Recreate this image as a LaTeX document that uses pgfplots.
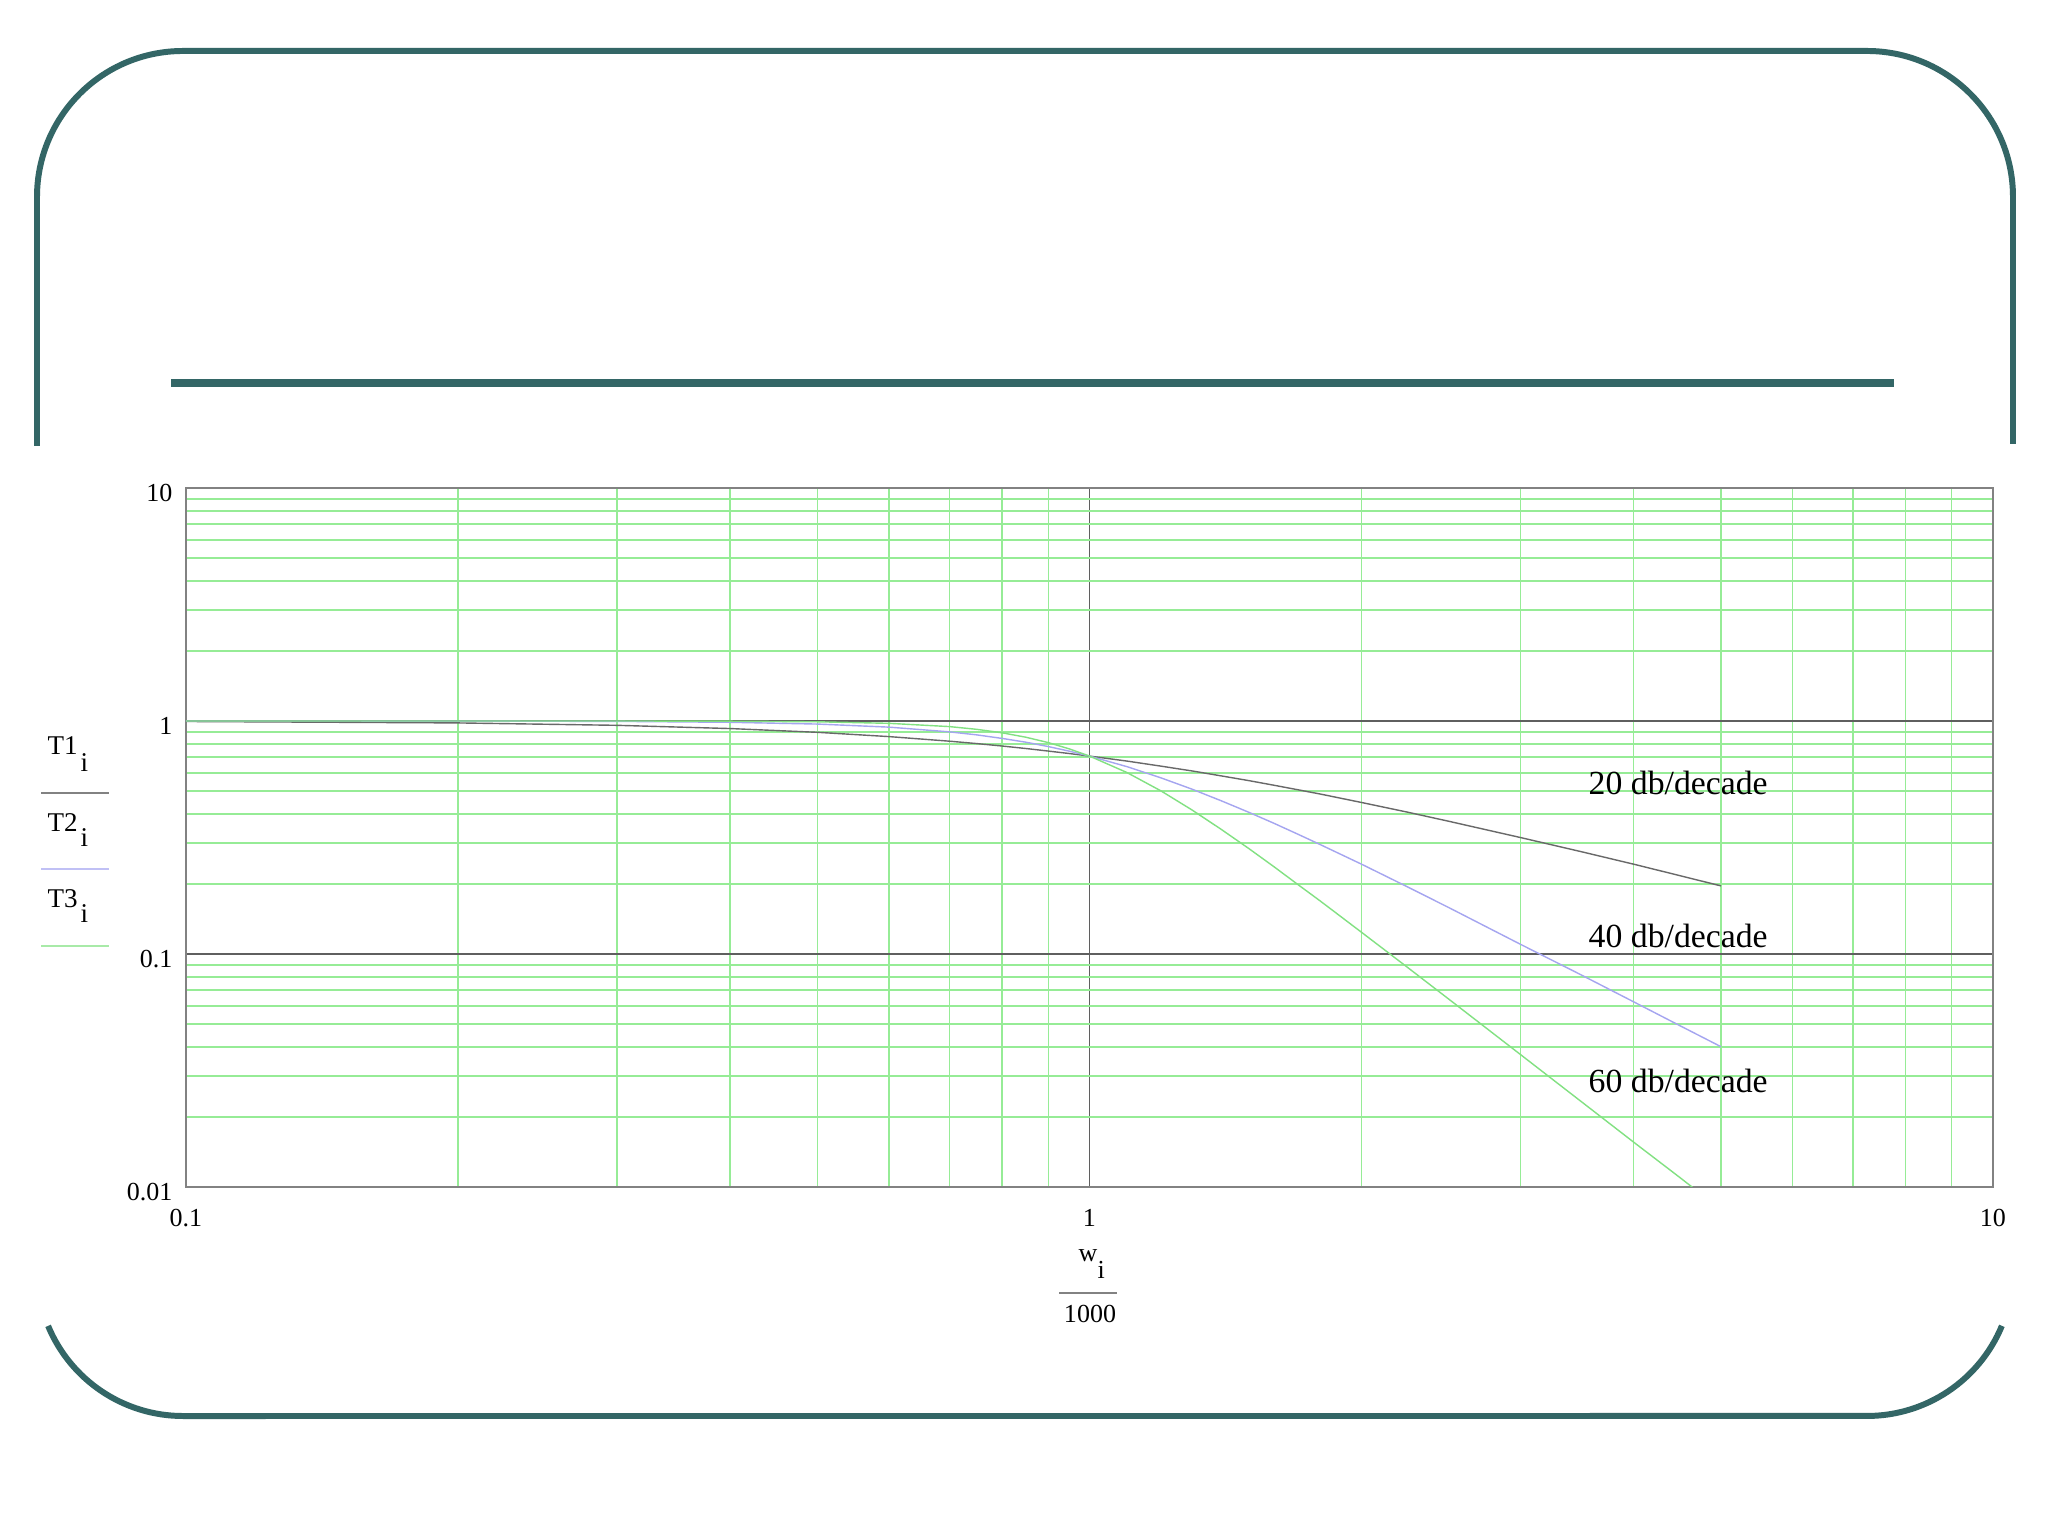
\documentclass[border=0pt]{standalone}
\usepackage{fontspec}
\setmainfont{Liberation Serif}
\usepackage{pgfplots}
\pgfplotsset{compat=1.18}

\definecolor{frame}{RGB}{51,102,102}
\definecolor{gridgreen}{RGB}{150,236,150}
\definecolor{gridgray}{RGB}{95,95,95}
\definecolor{boxgray}{RGB}{130,130,130}
\definecolor{tone}{RGB}{105,105,105}
\definecolor{ttwo}{RGB}{165,165,240}
\definecolor{tthree}{RGB}{130,225,130}

\newcommand{\tickfont}{\fontsize{7.4}{8.5}\selectfont}
\newcommand{\labfont}{\fontsize{7.7}{9}\selectfont}

\begin{document}
\begin{tikzpicture}
\path[use as bounding box, fill=white] (0,0) rectangle (20.48,15.36);

% slide frame, interrupted where the plot sits
\draw[frame, line width=1.7pt]
  (0.37,10.90) -- (0.37,13.39) arc[start angle=180, end angle=90, radius=1.46]
  -- (18.67,14.85) arc[start angle=90, end angle=0, radius=1.46] -- (20.13,10.92);
\draw[frame, line width=1.7pt]
  (0.481,2.101) arc[start angle=202.5, end angle=270, radius=1.46]
  -- (18.67,1.20) arc[start angle=270, end angle=337.5, radius=1.46];
\draw[frame, line width=2.2pt] (1.71,11.53) -- (18.94,11.53);

\begin{axis}[
  at={(1.86cm,3.49cm)}, anchor=south west,
  scale only axis, width=18.07cm, height=6.99cm,
  xmode=log, ymode=log,
  xmin=0.1, xmax=10, ymin=0.01, ymax=10,
  xtick={0.1,1,10}, xticklabels={0.1,1,10},
  ytick={0.01,0.1,1,10}, yticklabels={0.01,0.1,1,10},
  minor xtick={0.2,0.3,0.4,0.5,0.6,0.7,0.8,0.9,2,3,4,5,6,7,8,9},
  minor ytick={0.02,0.03,0.04,0.05,0.06,0.07,0.08,0.09,
               0.2,0.3,0.4,0.5,0.6,0.7,0.8,0.9,2,3,4,5,6,7,8,9},
  major tick length=0pt, minor tick length=0pt,
  xmajorgrids, ymajorgrids, xminorgrids, yminorgrids,
  major grid style={gridgray, line width=0.3pt},
  minor x grid style={gridgreen, line width=0.35pt},
  minor y grid style={gridgreen, line width=0.55pt},
  axis line style={boxgray, line width=0.4pt},
  tick label style={font=\tickfont, inner sep=0pt, text=black},
  xticklabel style={anchor=base, yshift=-4mm},
  yticklabel style={anchor=east, xshift=-1.3mm, yshift=-0.5mm},
]
% T1 = first order
\addplot[tone, line width=0.4pt] coordinates {
  (0.1,0.995)(0.2,0.981)(0.3,0.958)(0.4,0.928)(0.5,0.894)(0.6,0.857)
  (0.7,0.819)(0.75,0.800)(0.8,0.781)(0.85,0.762)(0.9,0.743)(0.95,0.725)
  (1.0,0.707)(1.1,0.673)(1.2,0.640)(1.3,0.610)(1.4,0.581)(1.5,0.555)
  (1.6,0.530)(1.7,0.507)(1.8,0.486)(2.0,0.447)(2.25,0.406)(2.5,0.371)
  (3.0,0.316)(3.5,0.275)(4.0,0.243)(4.5,0.217)(5.0,0.196)
};
% T2 = second order
\addplot[ttwo, line width=0.4pt] coordinates {
  (0.1,1.000)(0.2,0.999)(0.3,0.996)(0.4,0.987)(0.5,0.970)(0.6,0.941)
  (0.7,0.898)(0.75,0.872)(0.8,0.842)(0.85,0.811)(0.9,0.777)(0.95,0.742)
  (1.0,0.707)(1.1,0.637)(1.2,0.570)(1.3,0.509)(1.4,0.454)(1.5,0.406)
  (1.6,0.364)(1.7,0.327)(1.8,0.295)(2.0,0.243)(2.25,0.194)(2.5,0.158)
  (3.0,0.110)(3.5,0.0814)(4.0,0.0624)(4.5,0.0493)(5.0,0.0400)
};
% T3 = third order
\addplot[tthree, line width=0.4pt] coordinates {
  (0.1,1.000)(0.2,1.000)(0.3,1.000)(0.4,0.998)(0.5,0.992)(0.6,0.977)
  (0.7,0.946)(0.75,0.921)(0.8,0.890)(0.85,0.852)(0.9,0.808)(0.95,0.759)
  (1.0,0.707)(1.1,0.601)(1.2,0.501)(1.3,0.414)(1.4,0.342)(1.5,0.284)
  (1.6,0.237)(1.7,0.199)(1.8,0.169)(2.0,0.124)(2.25,0.0875)(2.5,0.0639)
  (3.0,0.0370)(3.5,0.0233)(4.0,0.0156)(4.5,0.0110)(5.0,0.0080)
};
\end{axis}

% slope notes
\begin{scope}[every node/.style={anchor=base west, inner sep=0pt, font=\fontsize{9.6}{11}\selectfont}]
\node at (15.88,7.41) {20 db/decade};
\node at (15.88,5.88) {40 db/decade};
\node at (15.88,4.43) {60 db/decade};
\end{scope}

% stacked y labels (Mathcad style)
\begin{scope}[every node/.style={anchor=base west, inner sep=0pt, font=\labfont}]
\node at (0.47,7.81) {T1};  \node at (0.80,7.64) {i};
\node at (0.47,7.04) {T2};  \node at (0.80,6.89) {i};
\node at (0.47,6.28) {T3};  \node at (0.80,6.13) {i};
\end{scope}
\draw[boxgray, line width=0.45pt] (0.41,7.43) -- (1.09,7.43);
\draw[ttwo!70, line width=0.45pt] (0.41,6.67) -- (1.09,6.67);
\draw[tthree!70, line width=0.6pt] (0.41,5.90) -- (1.09,5.90);

% x label w_i / 1000
\begin{scope}[every node/.style={inner sep=0pt, font=\tickfont}]
\node[anchor=base west] at (10.78,2.74) {w};
\node[anchor=base west] at (10.97,2.57) {i};
\node[anchor=base] at (10.90,2.13) {1000};
\end{scope}
\draw[boxgray, line width=0.45pt] (10.59,2.43) -- (11.17,2.43);
\end{tikzpicture}
\end{document}
